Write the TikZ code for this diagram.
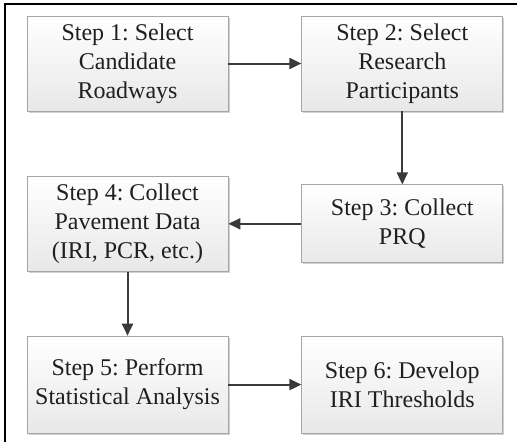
\documentclass[tikz,border=0pt]{standalone}
\usepackage{fontspec}
\setmainfont{Liberation Serif}
\usepackage{xcolor}
\usetikzlibrary{shapes,arrows.meta,positioning,shadows}
\frenchspacing

\definecolor{boxline}{HTML}{A6A6A6}
\definecolor{boxtext}{HTML}{1F1F1F}
\definecolor{arrowgray}{HTML}{3A3A3A}

\begin{document}
\begin{tikzpicture}[
    x=1pt, y=1pt,
    node distance=73pt,
    stepbox/.style={rectangle, draw=boxline, line width=0.8pt, top color=white, bottom color=black!9,
        text=boxtext, align=center, minimum width=201pt, minimum height=95pt, inner sep=0pt,
        font=\fontsize{24}{29}\selectfont\frenchspacing,
        drop shadow={shadow xshift=1.5pt, shadow yshift=-1.5pt, fill=black!30, opacity=0.6}},
    arrow/.style={-{Triangle[length=12pt,width=11pt]}, line width=2pt, draw=arrowgray}
]
    \useasboundingbox (0,0) rectangle (517,-442);
    % Frame
    \draw[line width=2pt] (5,-442) -- (5,-4) -- (517,-4);

    % Nodes
    \node[stepbox] (select) at (127.5,-63.5) {Step 1: Select\\Candidate\\Roadways};
    \node[stepbox, right=of select] (participants) {Step 2: Select\\Research\\Participants};
    \node[stepbox, minimum height=78pt, below=of participants] (prq) {Step 3: Collect\\PRQ};
    \node[stepbox, left=of prq] (pavement) {Step 4: Collect\\Pavement Data\\(IRI, PCR, etc.)};
    \node[stepbox, minimum height=97pt, below=64pt of pavement] (analysis) {Step 5: Perform\\Statistical Analysis};
    \node[stepbox, minimum height=97pt, right=of analysis] (thresholds) {Step 6: Develop\\IRI Thresholds};

    % Arrows
    \draw[arrow] (select) -- (participants);
    \draw[arrow] (participants) -- (prq);
    \draw[arrow] (prq) -- (pavement);
    \draw[arrow] (pavement) -- (analysis);
    \draw[arrow] (analysis) -- (thresholds);
\end{tikzpicture}
\end{document}
